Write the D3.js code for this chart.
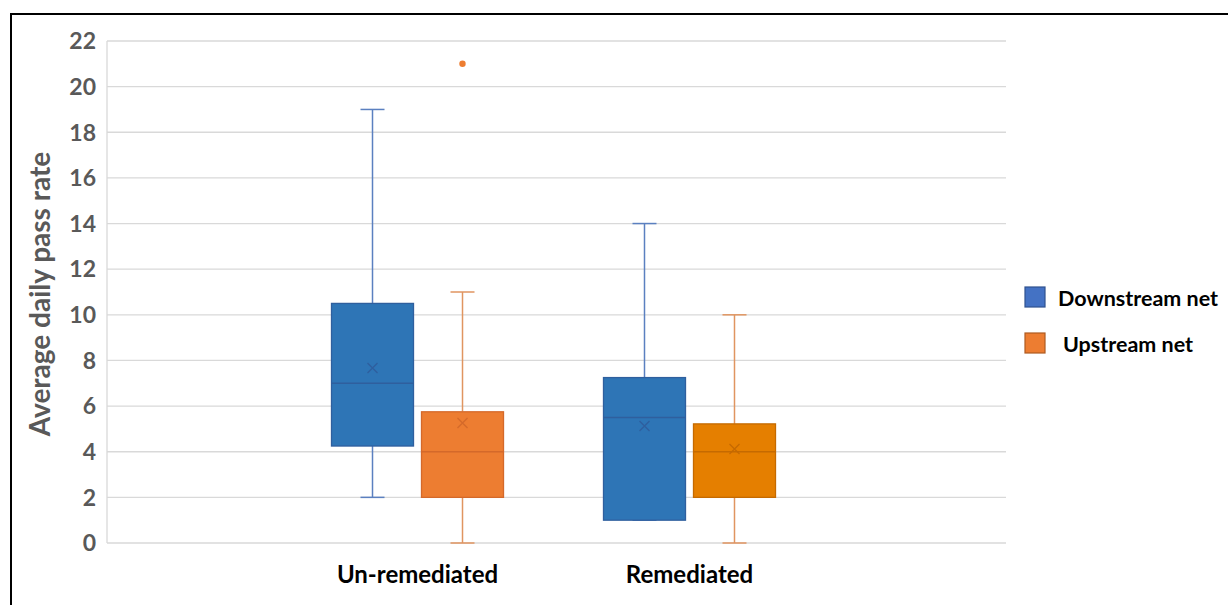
<!DOCTYPE html>
<html><head><meta charset="utf-8">
<script src="https://cdn.jsdelivr.net/npm/d3@7"></script>
<style>body{margin:0;background:#fff}svg{display:block}</style>
</head><body>
<svg id="c" width="1228" height="605"></svg>
<script>
const categories = ["Un-remediated", "Remediated"];
const seriesNames = ["Downstream net", "Upstream net"];
// per category: [downstream, upstream]
const whiskerMin = [[2, 0], [1, 0]];
const q1 = [[4.25, 2], [1, 2]];
const median = [[7, 4], [5.5, 4]];
const q3 = [[10.5, 5.75], [7.25, 5.22]];
const whiskerMax = [[19, 11], [14, 10]];
const means = [[7.67, 5.26], [5.13, 4.12]];
const outliers = [[[], [21]], [[], []]];
const yTicks = [0, 2, 4, 6, 8, 10, 12, 14, 16, 18, 20, 22];

const fills = [["#2E75B6", "#ED7D31"], ["#2E75B6", "#E57F00"]];
const strokes = [["#2F5F9E", "#D4692A"], ["#2F5F9E", "#C56A00"]];
const whiskerCol = [["#5B80C0", "#E09560"], ["#5B80C0", "#E09560"]];
const legendFill = ["#4472C4", "#ED7D31"];
const legendStroke = ["#2F528F", "#AE5A21"];

const svg = d3.select("#c");
const pLeft = 107, pRight = 1006, pTop = 41, pBottom = 543;
const y = d3.scaleLinear().domain([0, 22]).range([pBottom, pTop]);
const x = d3.scalePoint().domain(categories).range([pLeft - 3, pRight - 3]).padding(1.1526);
const xs = d3.scaleBand().domain(seriesNames).range([-90, 90]);
const bw = 82;
const font = "Lato, 'Open Sans', sans-serif";

// frame
svg.append("path").attr("d", "M11,605 L11,14 L1228,14").attr("fill", "none").attr("stroke", "#000").attr("stroke-width", 2);

// gridlines
svg.append("g").selectAll("line").data(yTicks).join("line")
  .attr("x1", pLeft).attr("x2", pRight).attr("y1", d => y(d)).attr("y2", d => y(d))
  .attr("stroke", "#d9d9d9").attr("stroke-width", 1.3);
svg.append("line").attr("x1", pLeft).attr("x2", pLeft).attr("y1", pTop).attr("y2", pBottom)
  .attr("stroke", "#d9d9d9").attr("stroke-width", 1.3);

// y tick labels
svg.append("g").selectAll("text").data(yTicks).join("text")
  .attr("x", 96).attr("y", d => y(d)).attr("dy", "0.36em").attr("text-anchor", "end")
  .attr("font-family", font).attr("font-weight", "bold")
  .attr("font-size", 23).attr("fill", "#595959").text(d => d);

// y title
svg.append("text").attr("transform", "translate(50,294) rotate(-90)").attr("text-anchor", "middle")
  .attr("font-family", font).attr("font-weight", "bold")
  .attr("font-size", 28).attr("fill", "#595959").text("Average daily pass rate");

// category labels
svg.append("g").selectAll("text").data(categories).join("text")
  .attr("x", d => x(d)).attr("y", 583).attr("text-anchor", "middle")
  .attr("font-family", font).attr("font-weight", "bold")
  .attr("font-size", 24).attr("fill", "#000").text(d => d);

// boxes
categories.forEach((cat, ci) => {
  seriesNames.forEach((s, si) => {
    const cx = x(cat) + xs(s) + xs.bandwidth()/2;
    const g = svg.append("g");
    const wc = whiskerCol[ci][si];
    g.append("line").attr("x1", cx).attr("x2", cx).attr("y1", y(q3[ci][si])).attr("y2", y(whiskerMax[ci][si])).attr("stroke", wc).attr("stroke-width", 1.5);
    g.append("line").attr("x1", cx).attr("x2", cx).attr("y1", y(q1[ci][si])).attr("y2", y(whiskerMin[ci][si])).attr("stroke", wc).attr("stroke-width", 1.5);
    [whiskerMax[ci][si], whiskerMin[ci][si]].forEach(v => {
      g.append("line").attr("x1", cx-12).attr("x2", cx+12).attr("y1", y(v)).attr("y2", y(v)).attr("stroke", wc).attr("stroke-width", 1.5);
    });
    g.append("rect").attr("x", cx-bw/2).attr("width", bw)
      .attr("y", y(q3[ci][si])).attr("height", y(q1[ci][si]) - y(q3[ci][si]))
      .attr("fill", fills[ci][si]).attr("stroke", strokes[ci][si]).attr("stroke-width", 1.3);
    g.append("line").attr("x1", cx-bw/2).attr("x2", cx+bw/2).attr("y1", y(median[ci][si])).attr("y2", y(median[ci][si]))
      .attr("stroke", strokes[ci][si]).attr("stroke-width", 1.5);
    const my = y(means[ci][si]), r = 5;
    g.append("path").attr("d", `M${cx-r},${my-r}L${cx+r},${my+r}M${cx-r},${my+r}L${cx+r},${my-r}`)
      .attr("stroke", strokes[ci][si]).attr("stroke-width", 1.3).attr("fill", "none");
    outliers[ci][si].forEach(v => {
      g.append("circle").attr("cx", cx).attr("cy", y(v)).attr("r", 3.2).attr("fill", fills[ci][si]);
    });
  });
});

// legend
const lg = svg.append("g");
seriesNames.forEach((s, i) => {
  const ly = 297 + i*46;
  lg.append("rect").attr("x", 1025).attr("y", ly-10).attr("width", 20).attr("height", 20)
    .attr("fill", legendFill[i]).attr("stroke", legendStroke[i]).attr("stroke-width", 1.2);
  lg.append("text").attr("x", 1058 + i*5).attr("y", ly + 1).attr("dy", "0.36em")
    .attr("font-family", font).attr("font-weight", "bold")
    .attr("font-size", 21.5).attr("fill", "#000").text(s);
});
</script>
</body></html>
